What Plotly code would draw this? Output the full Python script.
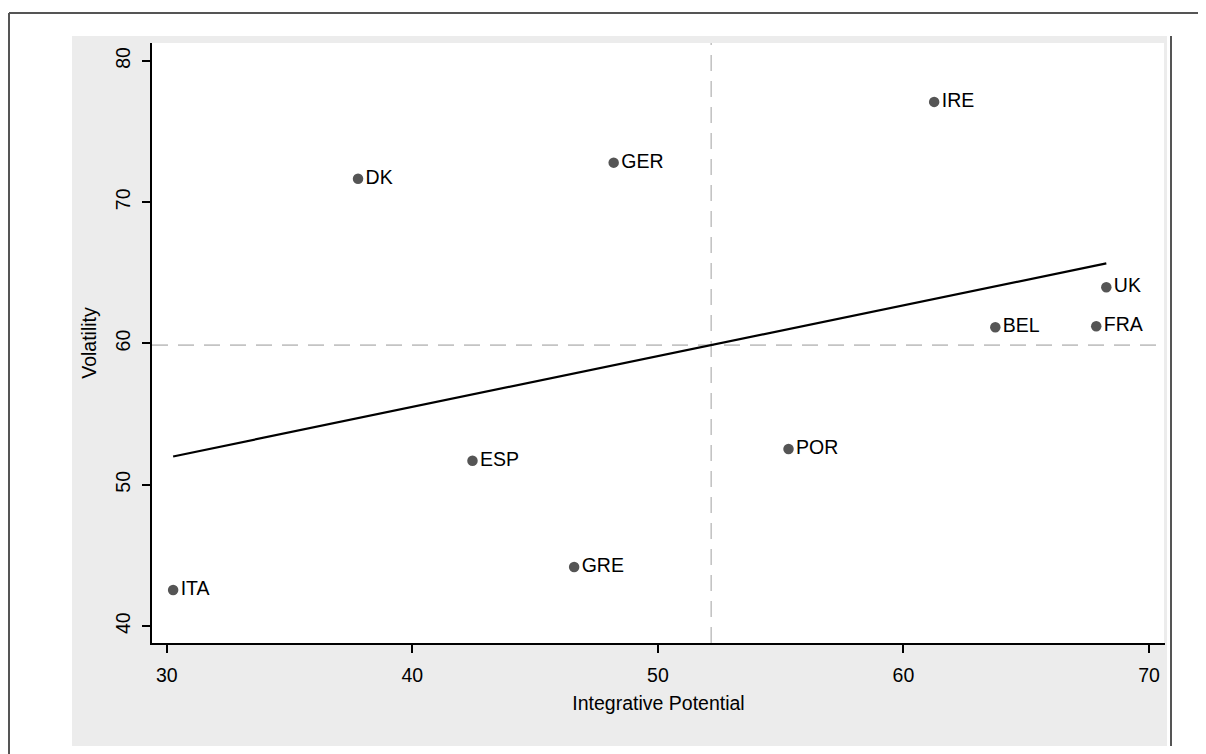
import numpy as np
import plotly.graph_objects as go

# ---- data ----
countries = ["ITA", "DK", "GER", "IRE", "UK", "BEL", "FRA", "ESP", "POR", "GRE"]
integrative_potential = [30.26, 37.79, 48.20, 61.25, 68.26, 63.74, 67.85, 42.45, 55.32, 46.59]
volatility = [42.55, 71.66, 72.80, 77.10, 63.98, 61.15, 61.22, 51.70, 52.53, 44.18]
x_ticks = [30, 40, 50, 60, 70]
y_ticks = [40, 50, 60, 70, 80]

x_title = "Integrative Potential"
y_title = "Volatility"

# ---- derived: linear fit and means ----
xa = np.array(integrative_potential)
ya = np.array(volatility)
slope, intercept = np.polyfit(xa, ya, 1)
fit_x = [xa.min(), xa.max()]
fit_y = [slope * v + intercept for v in fit_x]
mean_x = xa.mean()
mean_y = ya.mean()

# ---- layout geometry (window pixels; page body has an 8px margin) ----
OFF = 8
WIN_W, WIN_H = 1206, 754
W, H = WIN_W - OFF, WIN_H - OFF
L, R, T, B = 152 - OFF, 1165 - OFF, 43 - OFF, 643 - OFF


def px(X):
    return (X - OFF - L) / (R - L)


def py(Y):
    return (B - (Y - OFF)) / (B - T)


FONT = "Liberation Sans, Arial, Helvetica, sans-serif"
FS = 19.5
TXT = "#000000"

fig = go.Figure()

fig.add_trace(go.Scatter(
    x=fit_x, y=fit_y, mode="lines",
    line=dict(color="#000000", width=2.2),
    hoverinfo="skip", showlegend=False,
))

fig.add_trace(go.Scatter(
    x=integrative_potential, y=volatility, text=countries,
    mode="markers+text", textposition="middle right",
    marker=dict(size=10.5, color="#555555"),
    textfont=dict(family=FONT, size=FS, color=TXT),
    showlegend=False,
))

shapes = [
    # grey graph region
    dict(type="rect", xref="paper", yref="paper", layer="below",
         x0=px(72), x1=px(1167), y0=py(746), y1=py(36),
         fillcolor="#ececec", line=dict(width=0)),
    # white plot region
    dict(type="rect", xref="paper", yref="paper", layer="below",
         x0=0, x1=px(1164), y0=0, y1=1,
         fillcolor="#ffffff", line=dict(width=0)),
    # outer frame lines
    dict(type="line", xref="paper", yref="paper",
         x0=px(9), x1=px(1206), y0=py(13), y1=py(13),
         line=dict(color="#555555", width=2)),
    dict(type="line", xref="paper", yref="paper",
         x0=px(9), x1=px(9), y0=py(13), y1=py(754),
         line=dict(color="#555555", width=2)),
    dict(type="line", xref="paper", yref="paper",
         x0=px(1171), x1=px(1171), y0=py(36), y1=py(746),
         line=dict(color="#555555", width=2)),
    # mean reference lines
    dict(type="line", xref="x", yref="paper", layer="below",
         x0=mean_x, x1=mean_x, y0=0, y1=1,
         line=dict(color="#c4c4c4", width=1.6, dash="16px,10px")),
    dict(type="line", xref="paper", yref="y", layer="below",
         x0=0, x1=1, y0=mean_y, y1=mean_y,
         line=dict(color="#c4c4c4", width=1.6, dash="16px,10px")),
]

fig.update_layout(
    width=W, height=H, autosize=False,
    margin=dict(l=L, r=W - R, t=T, b=H - B, pad=0),
    paper_bgcolor="#ffffff", plot_bgcolor="#ffffff",
    font=dict(family=FONT, size=FS, color=TXT),
    shapes=shapes,
    showlegend=False,
)

fig.update_xaxes(
    range=[29.40, 70.65], tickvals=x_ticks, ticktext=[str(v) for v in x_ticks],
    showgrid=False, zeroline=False,
    showline=True, linecolor="#000000", linewidth=1.6,
    ticks="outside", ticklen=8, tickwidth=1.6, tickcolor="#000000",
    tickfont=dict(family=FONT, size=FS, color=TXT),
    ticklabelstandoff=6,
    title=dict(text=x_title, font=dict(family=FONT, size=FS, color=TXT), standoff=11),
)
fig.update_yaxes(
    range=[38.80, 81.27], tickvals=y_ticks, ticktext=[str(v) for v in y_ticks],
    showgrid=False, zeroline=False,
    showline=True, linecolor="#000000", linewidth=1.6,
    ticks="outside", ticklen=8, tickwidth=1.6, tickcolor="#000000",
    tickangle=-90,
    tickfont=dict(family=FONT, size=FS, color=TXT),
    ticklabelstandoff=4,
    title=dict(text=y_title, font=dict(family=FONT, size=FS, color=TXT), standoff=11),
)

fig.write_html("out.html")
